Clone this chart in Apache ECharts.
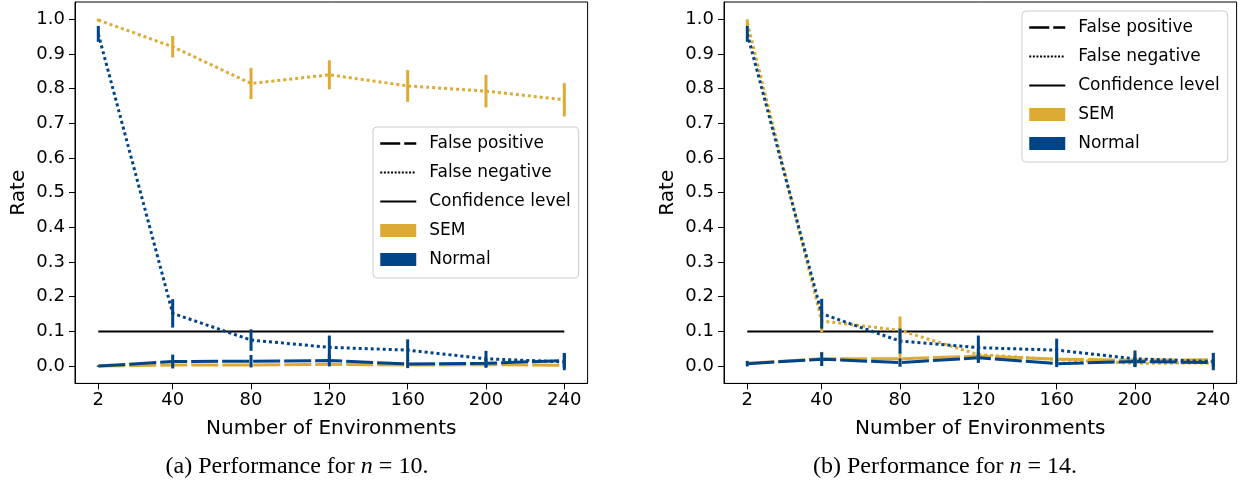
<!DOCTYPE html>
<html>
<head>
<meta charset="utf-8">
<script src="https://cdn.jsdelivr.net/npm/echarts@6/dist/echarts.min.js"></script>
<style>
html,body{margin:0;padding:0;background:#fff;}
#chart{width:1244px;height:490px;}
</style>
</head>
<body>
<div id="chart"></div>
<script>
// ---------- data ----------
const xVals = [2, 40, 80, 120, 160, 200, 240];
const yTicks = [0, 0.1, 0.2, 0.3, 0.4, 0.5, 0.6, 0.7, 0.8, 0.9, 1.0];
const confidence = 0.1;

// (a) n = 10
const a_semFP     = [0.000, 0.003, 0.003, 0.005, 0.003, 0.004, 0.002];
const a_semFPErr  = [0.001, 0.004, 0.004, 0.005, 0.004, 0.004, 0.003];
const a_semFN     = [0.998, 0.921, 0.815, 0.840, 0.808, 0.793, 0.768];
const a_semFNErr  = [0.004, 0.031, 0.045, 0.042, 0.046, 0.047, 0.048];
const a_normFP    = [0.000, 0.013, 0.014, 0.016, 0.006, 0.008, 0.016];
const a_normFPErr = [0.002, 0.020, 0.018, 0.017, 0.012, 0.013, 0.022];
const a_normFN    = [0.958, 0.152, 0.075, 0.054, 0.046, 0.021, 0.012];
const a_normFNErr = [0.023, 0.041, 0.031, 0.034, 0.031, 0.023, 0.024];

// (b) n = 14
const b_semFP     = [0.008, 0.021, 0.021, 0.029, 0.020, 0.017, 0.018];
const b_semFPErr  = [0.006, 0.020, 0.020, 0.020, 0.018, 0.020, 0.020];
const b_semFN     = [0.990, 0.130, 0.103, 0.033, 0.019, 0.008, 0.009];
const b_semFNErr  = [0.010, 0.033, 0.040, 0.020, 0.015, 0.010, 0.012];
const b_normFP    = [0.007, 0.020, 0.010, 0.024, 0.007, 0.013, 0.010];
const b_normFPErr = [0.008, 0.020, 0.012, 0.015, 0.010, 0.012, 0.010];
const b_normFN    = [0.958, 0.151, 0.072, 0.053, 0.046, 0.021, 0.013];
const b_normFNErr = [0.023, 0.043, 0.036, 0.035, 0.033, 0.024, 0.025];

// ---------- style ----------
const SEM_C = '#DDAA33';
const NORM_C = '#004488';
const FONT = 'DejaVu Sans';
const DASH = [27, 4];
const DOT = [3, 3];
const LW = 3;

const chart = echarts.init(document.getElementById('chart'), null, {renderer: 'canvas'});

function pts(vals) { return xVals.map((x, i) => [x, vals[i]]); }

function lineSeries(name, idx, vals, color, type) {
  return {
    name: name, type: 'line', xAxisIndex: idx, yAxisIndex: idx,
    data: pts(vals), symbol: 'none', silent: true,
    lineStyle: {color: color, width: LW, type: type, cap: 'butt', join: 'miter'},
    itemStyle: {color: color}, z: 3
  };
}

function errSeries(name, idx, vals, errs, color) {
  return {
    name: name, type: 'custom', xAxisIndex: idx, yAxisIndex: idx, silent: true,
    data: xVals.map((x, i) => [x, vals[i] - errs[i], vals[i] + errs[i]]),
    encode: {x: 0, y: [1, 2]},
    renderItem: function (params, api) {
      const p1 = api.coord([api.value(0), api.value(1)]);
      const p2 = api.coord([api.value(0), api.value(2)]);
      return {type: 'line', shape: {x1: p1[0], y1: p1[1], x2: p2[0], y2: p2[1]},
              style: {stroke: color, lineWidth: LW}};
    }, z: 4
  };
}

function confSeries(idx) {
  return {
    name: 'Confidence level', type: 'line', xAxisIndex: idx, yAxisIndex: idx,
    data: [[xVals[0], confidence], [xVals[xVals.length - 1], confidence]],
    symbol: 'none', silent: true,
    lineStyle: {color: '#000', width: 2, type: 'solid'}, itemStyle: {color: '#000'}, z: 2
  };
}

function xAxis(idx) {
  return {
    type: 'value', gridIndex: idx, min: -9.9, max: 251.9,
    axisLine: {show: true, onZero: false, lineStyle: {color: '#000', width: 1}},
    axisTick: {show: true, length: 6, customValues: xVals, lineStyle: {color: '#000', width: 1}},
    axisLabel: {customValues: xVals, fontSize: 18, fontFamily: FONT, color: '#000', margin: 8},
    splitLine: {show: false},
    name: 'Number of Environments', nameLocation: 'middle', nameGap: 35,
    nameTextStyle: {fontSize: 20, fontFamily: FONT, color: '#000'}
  };
}
function yAxis(idx) {
  return {
    type: 'value', gridIndex: idx, min: -0.05, max: 1.05,
    axisLine: {show: true, onZero: false, lineStyle: {color: '#000', width: 1}},
    axisTick: {show: true, length: 6, customValues: yTicks, lineStyle: {color: '#000', width: 1}},
    axisLabel: {customValues: yTicks, fontSize: 18, fontFamily: FONT, color: '#000', margin: 10,
                formatter: v => Number(v).toFixed(1)},
    splitLine: {show: false},
    name: 'Rate', nameLocation: 'middle', nameGap: 46,
    nameTextStyle: {fontSize: 20, fontFamily: FONT, color: '#000'}
  };
}

function legendCfg(left, top) {
  return {
    orient: 'vertical', left: left, top: top, selectedMode: false,
    itemWidth: 36, itemHeight: 13, itemGap: 12,
    padding: [8, 8, 10, 6],
    backgroundColor: '#fff', borderColor: '#cccccc', borderWidth: 1, borderRadius: 4,
    textStyle: {fontSize: 17, fontFamily: FONT, color: '#000', lineHeight: 13, padding: [0, 0, 0, 8]},
    data: [
      {name: 'False positive', itemStyle: {opacity: 0}, lineStyle: {color: '#000', width: 2.5, type: [20, 4], opacity: 1}},
      {name: 'False negative', itemStyle: {opacity: 0}, lineStyle: {color: '#000', width: 2, type: [2, 1.6], opacity: 1}},
      {name: 'Confidence level', itemStyle: {opacity: 0}, lineStyle: {color: '#000', width: 2, type: 'solid', opacity: 1}},
      {name: 'SEM', icon: 'rect', itemStyle: {color: SEM_C, opacity: 1}},
      {name: 'Normal', icon: 'rect', itemStyle: {color: NORM_C, opacity: 1}}
    ]
  };
}

function dummy(name, color, type) {
  return {name: name, type: 'line', xAxisIndex: 0, yAxisIndex: 0, data: [], symbol: 'none',
          lineStyle: {color: color, type: type}, itemStyle: {color: color}};
}

const series = [
  dummy('False positive', '#000', 'dashed'),
  dummy('False negative', '#000', 'dotted'),
  dummy('SEM', SEM_C, 'solid'),
  dummy('Normal', NORM_C, 'solid'),
  confSeries(0), confSeries(1),
  // panel (a)
  lineSeries('SEM false positive (a)', 0, a_semFP, SEM_C, DASH),
  errSeries('SEM false positive err (a)', 0, a_semFP, a_semFPErr, SEM_C),
  lineSeries('SEM false negative (a)', 0, a_semFN, SEM_C, DOT),
  errSeries('SEM false negative err (a)', 0, a_semFN, a_semFNErr, SEM_C),
  lineSeries('Normal false positive (a)', 0, a_normFP, NORM_C, DASH),
  errSeries('Normal false positive err (a)', 0, a_normFP, a_normFPErr, NORM_C),
  lineSeries('Normal false negative (a)', 0, a_normFN, NORM_C, DOT),
  errSeries('Normal false negative err (a)', 0, a_normFN, a_normFNErr, NORM_C),
  // panel (b)
  lineSeries('SEM false positive (b)', 1, b_semFP, SEM_C, DASH),
  errSeries('SEM false positive err (b)', 1, b_semFP, b_semFPErr, SEM_C),
  lineSeries('SEM false negative (b)', 1, b_semFN, SEM_C, DOT),
  errSeries('SEM false negative err (b)', 1, b_semFN, b_semFNErr, SEM_C),
  lineSeries('Normal false positive (b)', 1, b_normFP, NORM_C, DASH),
  errSeries('Normal false positive err (b)', 1, b_normFP, b_normFPErr, NORM_C),
  lineSeries('Normal false negative (b)', 1, b_normFN, NORM_C, DOT),
  errSeries('Normal false negative err (b)', 1, b_normFN, b_normFNErr, NORM_C)
];

const captionStyle = {fontFamily: 'Liberation Serif', fontSize: 24, fill: '#000'};
const option = {
  animation: false,
  backgroundColor: '#fff',
  grid: [
    {left: 75, top: 2, width: 512.6, height: 381.4, show: true, borderColor: '#000', borderWidth: 1, backgroundColor: 'transparent'},
    {left: 724, top: 2, width: 512.6, height: 381.4, show: true, borderColor: '#000', borderWidth: 1, backgroundColor: 'transparent'}
  ],
  xAxis: [xAxis(0), xAxis(1)],
  yAxis: [yAxis(0), yAxis(1)],
  legend: [legendCfg(373, 127), legendCfg(1022, 11)],
  series: series,
  graphic: [
    {type: 'text', x: 297, y: 467, silent: true,
     style: Object.assign({text: '(a) Performance for {i|n} = 10.', align: 'center', verticalAlign: 'middle',
       rich: {i: {fontStyle: 'italic', fontFamily: 'Liberation Serif', fontSize: 24}}}, captionStyle)},
    {type: 'text', x: 945, y: 467, silent: true,
     style: Object.assign({text: '(b) Performance for {i|n} = 14.', align: 'center', verticalAlign: 'middle',
       rich: {i: {fontStyle: 'italic', fontFamily: 'Liberation Serif', fontSize: 24}}}, captionStyle)}
  ]
};
chart.setOption(option);
</script>
</body>
</html>
